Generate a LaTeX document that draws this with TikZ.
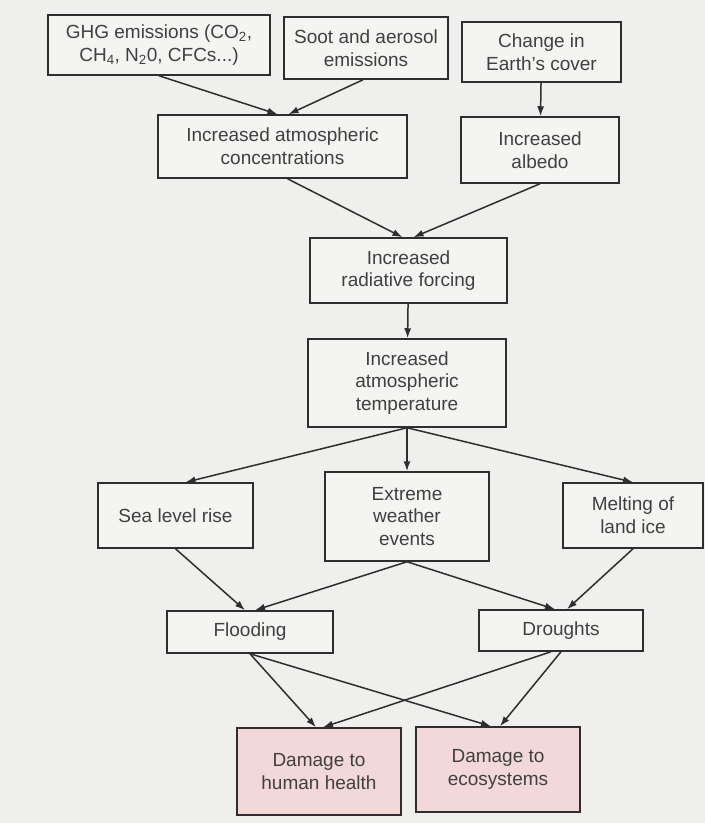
\documentclass[tikz,border=0pt]{standalone}
\usepackage{fontspec}
\setmainfont{Liberation Sans}
\usepackage{tikz}
\usetikzlibrary{arrows.meta}
\definecolor{Paper}{HTML}{EFEFED}
\definecolor{BoxFill}{HTML}{F4F4F2}
\definecolor{Blush}{HTML}{F2D8D9}
\definecolor{Ink}{HTML}{2E2E2E}
\definecolor{Lead}{HTML}{404040}
\tikzset{
  flowarrow/.style={-{Latex[length=10pt,width=7pt]},line width=1.5pt,draw=Ink},
  nodebase/.style={rectangle,align=center,inner sep=0pt,line width=1.5pt,
    draw=Ink,fill=BoxFill,text=Lead,font=\fontsize{19}{22.7}\selectfont},
  harmbox/.style={nodebase,fill=Blush},
}

\begin{document}
\begin{tikzpicture}[x=1pt,y=-1pt]
        \useasboundingbox[fill=Paper] (0,0) rectangle (705,823);
        % causes
        \node[nodebase,minimum width=222pt,minimum height=60pt] (ghg) at (159,45)
          {GHG emissions (CO\textsubscript{2},\\CH\textsubscript{4}, N\textsubscript{2}0, CFCs...)};
        \node[nodebase,minimum width=164pt,minimum height=62pt] (soot) at (366,48) {Soot and aerosol\\emissions};
        \node[nodebase,minimum width=159pt,minimum height=60pt] (cover) at (541.5,52) {Change in\\Earth's cover};
        \node[nodebase,minimum width=249pt,minimum height=63pt] (conc) at (282.5,146.5) {Increased atmospheric\\concentrations};
        \node[nodebase,minimum width=158pt,minimum height=66pt] (albedo) at (540,150) {Increased\\albedo};
        \node[nodebase,minimum width=197pt,minimum height=65pt] (forcing) at (408.5,270.5) {Increased\\radiative forcing};
        \node[nodebase,minimum width=198pt,minimum height=88pt] (temp) at (407,383) {Increased\\atmospheric\\temperature};
        % effects
        \node[nodebase,minimum width=155pt,minimum height=65pt] (sea) at (175.5,515.5) {Sea level rise};
        \node[nodebase,minimum width=164pt,minimum height=89pt] (weather) at (407,516.5) {Extreme\\weather\\events};
        \node[nodebase,minimum width=140pt,minimum height=65pt] (ice) at (633,515.5) {Melting of\\land ice};
        \node[nodebase,minimum width=166pt,minimum height=42pt] (flood) at (250,632) {Flooding};
        \node[nodebase,minimum width=164pt,minimum height=41pt] (drought) at (561,630.5) {Droughts};
        \node[harmbox,minimum width=164pt,minimum height=87pt] (health) at (319,771.5) {Damage to\\human health};
        \node[harmbox,minimum width=164pt,minimum height=85pt] (eco) at (498,769.5) {Damage to\\ecosystems};
        \draw[flowarrow] (ghg.south) -- ([xshift=-5pt]conc.north);
        \draw[flowarrow] ([xshift=-3pt]soot.south) -- ([xshift=6pt]conc.north);
        \draw[flowarrow] (cover) -- (albedo);
        \draw[flowarrow] ([xshift=5pt]conc.south) -- ([xshift=-6pt]forcing.north);
        \draw[flowarrow] (albedo.south) -- ([xshift=5pt]forcing.north);
        \draw[flowarrow] (forcing) -- (temp);
        \draw[flowarrow] (temp.south) -- ([xshift=10pt]sea.north);
        \draw[flowarrow] (temp) -- (weather);
        \draw[flowarrow] (temp.south) -- (ice.north);
        \draw[flowarrow] (sea.south) -- ([xshift=-5pt]flood.north);
        \draw[flowarrow] (weather.south) -- ([xshift=5pt]flood.north);
        \draw[flowarrow] (weather.south) -- ([xshift=-6pt]drought.north);
        \draw[flowarrow] (ice.south) -- ([xshift=6pt]drought.north);
        \draw[flowarrow] (flood.south) -- ([xshift=-3pt]health.north);
        \draw[flowarrow] ([xshift=-10pt]drought.south) -- ([xshift=4pt]health.north);
        \draw[flowarrow] (flood.south) -- ([xshift=-7pt]eco.north);
        \draw[flowarrow] (drought.south) -- ([xshift=2pt]eco.north);
      \end{tikzpicture}
\end{document}
